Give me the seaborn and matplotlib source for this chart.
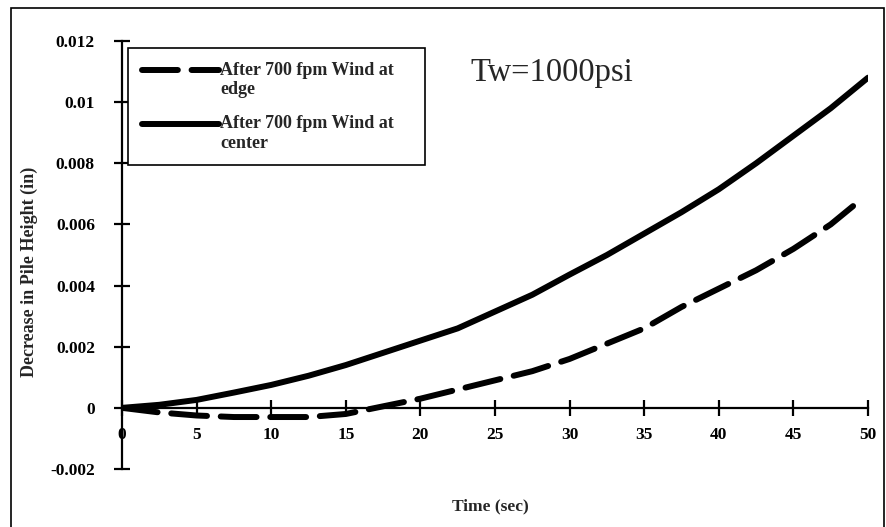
import matplotlib
matplotlib.use("Agg")
import matplotlib.pyplot as plt
import seaborn as sns
import pandas as pd
from matplotlib.patches import Rectangle
from matplotlib.legend_handler import HandlerLine2D

# ---- data ----
time_center = [0, 2.5, 5, 7.5, 10, 12.5, 15, 17.5, 20, 22.5, 25, 27.5, 30,
               32.5, 35, 37.5, 40, 42.5, 45, 47.5, 50]
center = [0, 0.0001, 0.00026, 0.0005, 0.00075, 0.00105, 0.0014, 0.0018,
          0.0022, 0.0026, 0.00315, 0.0037, 0.00436, 0.0050, 0.0057, 0.0064,
          0.00715, 0.0080, 0.0089, 0.0098, 0.0108]
time_edge = [0, 2.5, 5, 7.5, 10, 12.5, 15, 17, 20, 22.5, 25, 27.5, 30,
             32.5, 35, 37.5, 40, 42.5, 45, 47.5, 49]
edge = [0, -0.00015, -0.00025, -0.0003, -0.0003, -0.0003, -0.0002, 0.0,
        0.0003, 0.0006, 0.0009, 0.0012, 0.0016, 0.0021, 0.0026, 0.0033,
        0.0039, 0.0045, 0.0052, 0.0060, 0.0066]
label_edge = "After 700 fpm Wind at    \nedge"
label_center = "After 700 fpm Wind at    \ncenter"
x_ticks = [0, 5, 10, 15, 20, 25, 30, 35, 40, 45, 50]
y_ticks = [-0.002, 0, 0.002, 0.004, 0.006, 0.008, 0.01, 0.012]
y_tick_labels = ["-0.002", "0", "0.002", "0.004", "0.006", "0.008", "0.01", "0.012"]

df_edge = pd.DataFrame({"t": time_edge, "v": edge})
df_center = pd.DataFrame({"t": time_center, "v": center})

sns.set_style("white")
plt.rcParams["font.family"] = ["Liberation Serif", "DejaVu Serif"]

fig = plt.figure(figsize=(8.86, 5.27), dpi=100)
ax = fig.add_axes([122/886, 1-469/527, (868-122)/886, (469-41)/527])

lw = 4.3
sns.lineplot(data=df_edge, x="t", y="v", ax=ax, color="black", lw=lw,
             label=label_edge, estimator=None, sort=False)
sns.lineplot(data=df_center, x="t", y="v", ax=ax, color="black", lw=lw,
             label=label_center, estimator=None, sort=False)
ax.lines[0].set_dashes((6.0, 2.3))
ax.lines[0].set_dash_capstyle("round")
ax.lines[1].set_solid_capstyle("round")

ax.set_xlim(0, 50)
ax.set_ylim(-0.002, 0.012)

for s in ["top", "right"]:
    ax.spines[s].set_visible(False)
ax.spines["bottom"].set_position(("data", 0))
ax.spines["left"].set_position(("data", 0))
for s in ["bottom", "left"]:
    ax.spines[s].set_color("black")
    ax.spines[s].set_linewidth(1.6)

ax.set_xticks(x_ticks)
ax.set_xticklabels([str(v) for v in x_ticks], fontweight="bold", fontsize=12.5)
ax.set_yticks(y_ticks)
ax.set_yticklabels(y_tick_labels, fontweight="bold", fontsize=12.5)
ax.tick_params(axis="both", direction="inout", length=11, width=1.6,
               color="black", labelcolor="black")
ax.tick_params(axis="x", pad=8, bottom=True)
ax.tick_params(axis="y", pad=14, left=True)
ax.set_facecolor("none")

ax.set_xlabel("")
ax.set_ylabel("")
fig.text(490/886, 1-506/527, "Time (sec)", ha="center", va="center",
         fontweight="bold", fontsize=12.5)
fig.text(29/886, 1-272/527, "Decrease in Pile Height (in)", ha="center",
         va="center", rotation=90, fontweight="bold", fontsize=13)
fig.text(470/886, 1-73/527, "Tw=1000psi", ha="left", va="center", fontsize=23.5)


class TopHandler(HandlerLine2D):
    def create_artists(self, legend, orig_handle, xdescent, ydescent, width,
                       height, fontsize, trans):
        arts = super().create_artists(legend, orig_handle, xdescent, ydescent,
                                      width, height, fontsize, trans)
        for a in arts:
            yd = a.get_ydata()
            a.set_ydata([y + 0.55 * fontsize for y in yd])
        return arts


leg = ax.legend(loc="upper left", bbox_to_anchor=(6/746, 1-7/428),
                frameon=True, fancybox=False, edgecolor="black",
                handlelength=4.3, handletextpad=0.05, borderpad=0.75,
                borderaxespad=0.0,
                labelspacing=0.95, prop={"weight": "bold", "size": 13},
                handler_map={ax.lines[0]: TopHandler(), ax.lines[1]: TopHandler()})
leg.get_frame().set_linewidth(1.2)
leg.get_frame().set_alpha(1)
for line in leg.get_lines():
    line.set_linewidth(lw)

fig.patches.append(Rectangle((11/886, -0.05), 873/886, 1.05 - 8/527,
                             transform=fig.transFigure, fill=False,
                             edgecolor="black", lw=1.2))

fig.savefig("out.png", dpi=100)
